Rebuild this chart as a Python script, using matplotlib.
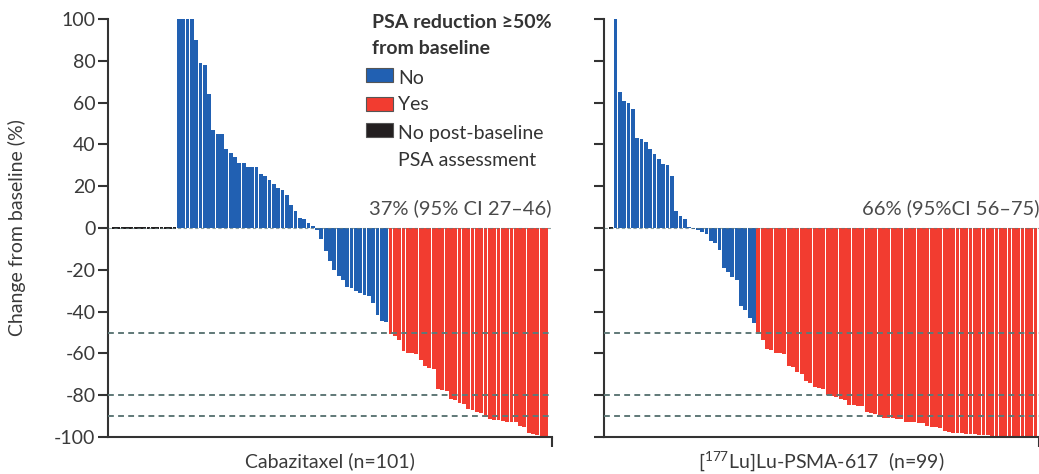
import matplotlib
matplotlib.use('Agg')
import matplotlib.pyplot as plt
from matplotlib.patches import Rectangle

plt.rcParams['font.family'] = ['Lato', 'DejaVu Sans']
plt.rcParams['mathtext.fontset'] = 'custom'
plt.rcParams['mathtext.rm'] = 'Lato'
plt.rcParams['mathtext.it'] = 'Lato'
plt.rcParams['axes.unicode_minus'] = False

# data
cab_nopost = 15
cab_no = [100, 100, 100, 100, 90, 79, 78, 64, 47, 45, 45, 38, 36, 34, 31, 31,
          29, 29, 29, 26, 25, 23, 21, 19, 18, 16, 11, 8, 5, 4.5, 2.2, 1,
          -1, -5.5, -11, -16, -20, -23, -25, -28, -28.5, -30, -31, -32, -32.5,
          -36, -41.5, -44.5, -45]
cab_yes = [-50.5, -51.5, -53.5, -59, -60, -60, -60.5, -63, -66, -67, -67.5,
           -77, -77.5, -78, -82, -82.5, -83.5, -84, -86.5, -87, -88, -88.5,
           -90.5, -91.5, -92, -92, -92.5, -92.7, -93, -93, -94.5, -95, -98,
           -98.5, -99, -100, -100]

lu_nopost = 1
lu_no = [100, 65, 61, 60, 57, 43, 42.5, 41, 38, 35.5, 33, 30.5, 30, 25, 8,
         5.7, 4.2, 0.3, -0.5, -1, -2, -3, -6, -7, -10.5, -19, -21, -23.5,
         -25, -37.5, -39, -43, -45.5]
lu_yes = [-49.6, -53.6, -58, -58.5, -60, -60, -60.5, -66, -66.5, -69,
          -70, -73, -74, -76, -76.5, -77, -80, -80.5, -81, -82,
          -82.5, -84.5, -84.5, -85, -85, -88, -88.5, -89, -90.5, -91,
          -91, -91, -91.5, -91.5, -93, -93, -93, -93.5, -93.5, -94.5,
          -95, -95, -95.5, -97, -97.5, -98, -98, -98, -98.5, -98.5,
          -98.5, -99, -99, -99, -99.5, -99.5, -99.5, -100, -100, -100,
          -100, -100, -100, -100, -100]

yticks = [100, 80, 60, 40, 20, 0, -20, -40, -60, -80, -100]
ref_lines = [-50, -80, -90]

legend_title = ['PSA reduction \u226550%', 'from baseline']
legend_labels = ['No', 'Yes', 'No post-baseline\nPSA assessment']

BLUE = '#2160b2'
RED = '#f23c30'
BLACK = '#231f20'
DASH = '#5f7877'
AX = '#333333'
TXT = '#3a3a3a'

W, H = 1039, 474


def fx(px):
    return px / W


def fy(py):
    return 1 - py / H


def waterfall(ax, nopost, no, yes, xlim, label, ci_text, show_labels):
    n0 = nopost
    n1 = n0 + len(no)
    n2 = n1 + len(yes)
    ax.bar(range(n0), [1.2] * n0, bottom=-0.6, width=0.88, color=BLACK, lw=0)
    ax.bar(range(n0, n1), no, width=0.88, color=BLUE, lw=0)
    ax.bar(range(n1, n2), yes, width=0.88, color=RED, lw=0)
    for y in ref_lines:
        ax.axhline(y, color=DASH, lw=1.4, ls=(0, (3, 2.2)), zorder=3)
    ax.axhline(0, color=DASH, lw=0.8, ls=(0, (3, 2.2)), zorder=3, alpha=0.7)
    ax.set_xlim(*xlim)
    ax.set_ylim(-100, 100)
    ax.set_yticks(yticks)
    if not show_labels:
        ax.set_yticklabels([])
    ax.set_xticks([xlim[1]])
    ax.set_xticklabels([])
    for s in ['top', 'right']:
        ax.spines[s].set_visible(False)
    for s in ['left', 'bottom']:
        ax.spines[s].set_linewidth(1.5)
        ax.spines[s].set_color(AX)
    ax.tick_params(axis='both', length=7, width=1.5, color=AX,
                   labelsize=14, labelcolor=TXT, pad=2)
    ax.set_xlabel(label, fontsize=14, color=TXT, va='center')
    ax.xaxis.set_label_coords(0.5, -24 / 418)
    ax.text(1.0, 0.5 + 20 / 418, ci_text, transform=ax.transAxes,
            ha='right', va='center', fontsize=14.5, color='#4a4a4a')


fig = plt.figure(figsize=(10.39, 4.74), dpi=100)
ax1 = fig.add_axes([fx(108), fy(437), fx(444), 418 / H])
ax2 = fig.add_axes([fx(604), fy(437), 1 - fx(604), 418 / H])

waterfall(ax1, cab_nopost, cab_no, cab_yes, (-1.4, 101.4),
          'Cabazitaxel (n=101)', '37% (95% CI 27\u201346)', True)
waterfall(ax2, lu_nopost, lu_no, lu_yes, (-1.65, 98.8),
          r'[$^{177}$Lu]Lu-PSMA-617  (n=99)', '66% (95%CI 56\u201375)', False)
ax1.set_ylabel('Change from baseline (%)', fontsize=14, color=TXT,
               va='center')
ax1.yaxis.set_label_coords(-91 / 444, 0.5)

# legend drawn by hand to match the wide line spacing
for txt, py in zip(legend_title, [23, 49]):
    fig.text(fx(372), fy(py), txt, fontsize=14, fontweight='bold',
             color='#333333', ha='left', va='center')
patch_rows = [(BLUE, 75), (RED, 103.5), (BLACK, 130)]
for color, py in patch_rows:
    fig.patches.append(Rectangle((fx(366), fy(py + 7)), fx(27), 14 / H,
                                 transform=fig.transFigure, facecolor=color,
                                 edgecolor='#555555', lw=0.8))
label_rows = [78, 105, 133]
for txt, py in zip(legend_labels, label_rows):
    lines = txt.split('\n')
    for k, line in enumerate(lines):
        fig.text(fx(398), fy(py + 28 * k), line,
                 fontsize=14, color='#333333', ha='left', va='center')

fig.savefig('out.png', dpi=100)
